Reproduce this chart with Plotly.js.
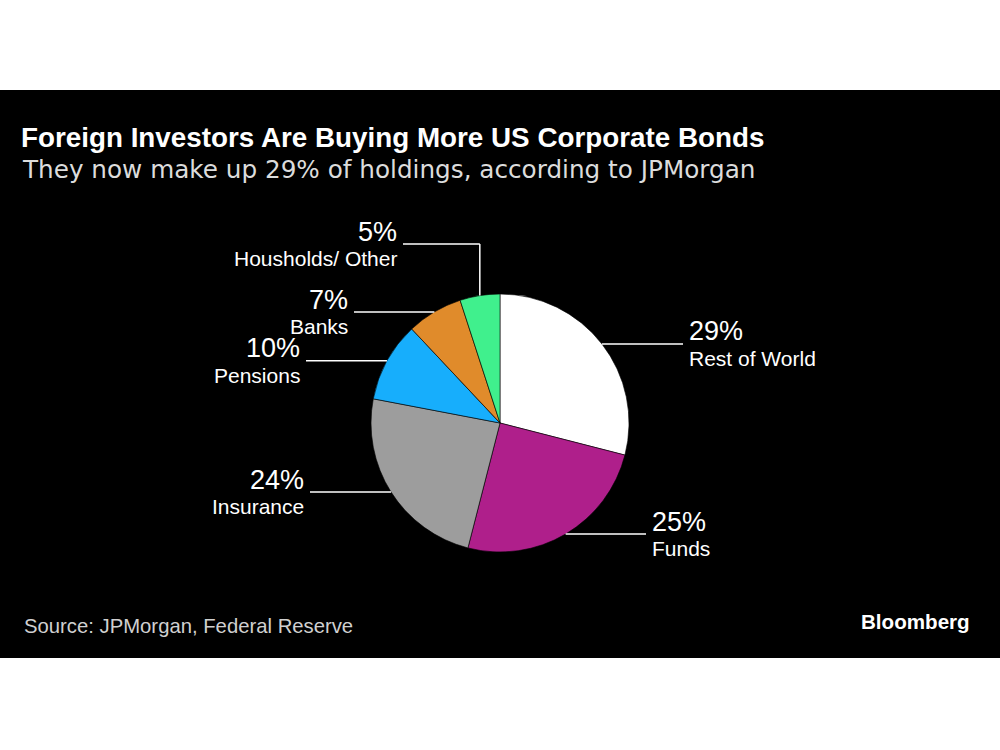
<!DOCTYPE html>
<html>
<head>
<meta charset="utf-8">
<script src="https://cdn.plot.ly/plotly-3.0.1.min.js"></script>
<style>html,body{margin:0;padding:0;background:#fff;}#chart{width:1000px;height:750px;}</style>
</head>
<body>
<div id="chart"></div>
<script>
// ---- data ----
const categories = ['Rest of World', 'Funds', 'Insurance', 'Pensions', 'Banks', 'Housholds/ Other'];
const shares = [29, 25, 24, 10, 7, 5];
const sliceColors = ['#ffffff', '#af1f8b', '#9d9d9d', '#17aefc', '#e08b2b', '#40f08d'];

const titleText = 'Foreign Investors Are Buying More US Corporate Bonds';
const subtitleText = 'They now make up 29% of holdings, according to JPMorgan';
const sourceText = 'Source: JPMorgan, Federal Reserve';
const brandText = 'Bloomberg';

// ---- layout geometry (pixels) ----
const W = 1000, H = 750;
const PIE = {cx: 500, cy: 423, r: 129};
const BAND = {top: 90, bottom: 658};
// label placement: side and x where the leader line ends; optional elbow y
const labelPlace = [
  {side: 'right', x: 683},
  {side: 'right', x: 646},
  {side: 'left', x: 310},
  {side: 'left', x: 306},
  {side: 'left', x: 354},
  {side: 'left', x: 403, elbowY: 244}
];
const FONT = '"Liberation Sans", Arial, Helvetica, sans-serif';
const WIDE = '"DejaVu Sans", "Liberation Sans", Arial, sans-serif';
const PCT_SIZE = 27, NAME_SIZE = 21;

const px = x => x / W;
const py = y => 1 - y / H;

const total = shares.reduce((a, b) => a + b, 0);
const shapes = [{
  type: 'rect', xref: 'paper', yref: 'paper', layer: 'below',
  x0: 0, x1: 1, y0: py(BAND.bottom), y1: py(BAND.top),
  fillcolor: '#000000', line: {width: 0}
}];
const annotations = [];

let cum = 0;
shares.forEach((v, i) => {
  const mid = (cum + v / 2) / total * 2 * Math.PI; // clockwise from 12 o'clock
  cum += v;
  const ex = PIE.cx + PIE.r * Math.sin(mid);
  const ey = PIE.cy - PIE.r * Math.cos(mid);
  const p = labelPlace[i];
  let lineY = ey;
  if (p.elbowY !== undefined) {
    shapes.push({type: 'line', xref: 'paper', yref: 'paper',
      x0: px(ex), y0: py(ey), x1: px(ex), y1: py(p.elbowY),
      line: {color: '#ffffff', width: 1.5}});
    lineY = p.elbowY;
  }
  shapes.push({type: 'line', xref: 'paper', yref: 'paper',
    x0: px(ex), y0: py(lineY), x1: px(p.x), y1: py(lineY),
    line: {color: '#ffffff', width: 1.5}});
  const tx = p.side === 'right' ? p.x + 4 : p.x - 4;
  const anchor = p.side === 'right' ? 'left' : 'right';
  const pctBase = lineY - 3;
  const nameBase = lineY + 22;
  annotations.push({
    xref: 'paper', yref: 'paper', x: px(tx), y: py(pctBase - 0.35 * PCT_SIZE),
    xanchor: anchor, yanchor: 'middle', showarrow: false,
    text: v + '%', font: {family: FONT, size: PCT_SIZE, color: '#ffffff'}
  });
  annotations.push({
    xref: 'paper', yref: 'paper', x: px(tx), y: py(nameBase - 0.35 * NAME_SIZE),
    xanchor: anchor, yanchor: 'middle', showarrow: false,
    text: categories[i], font: {family: FONT, size: NAME_SIZE, color: '#ffffff'}
  });
});

annotations.push({
  xref: 'paper', yref: 'paper', x: px(20), y: py(178 - 0.35 * 24.7),
  xanchor: 'left', yanchor: 'middle', showarrow: false,
  text: subtitleText, font: {family: WIDE, size: 24.7, color: '#dcdcdc'}
});
annotations.push({
  xref: 'paper', yref: 'paper', x: px(22), y: py(633 - 0.35 * 20.3),
  xanchor: 'left', yanchor: 'middle', showarrow: false,
  text: sourceText, font: {family: FONT, size: 20.3, color: '#d0d0d0'}
});
annotations.push({
  xref: 'paper', yref: 'paper', x: px(972), y: py(629 - 0.35 * 20.6),
  xanchor: 'right', yanchor: 'middle', showarrow: false,
  text: '<b>' + brandText + '</b>', font: {family: FONT, size: 20.6, color: '#ffffff'}
});

const trace = {
  type: 'pie',
  labels: categories,
  values: shares,
  sort: false,
  direction: 'clockwise',
  rotation: 0,
  textinfo: 'none',
  hoverinfo: 'label+percent',
  marker: {colors: sliceColors, line: {color: '#000000', width: 0.6}},
  domain: {x: [px(PIE.cx - PIE.r), px(PIE.cx + PIE.r)], y: [py(PIE.cy + PIE.r), py(PIE.cy - PIE.r)]},
  showlegend: false
};

const layout = {
  width: W, height: H,
  margin: {l: 0, r: 0, t: 0, b: 0},
  paper_bgcolor: '#ffffff',
  showlegend: false,
  title: {
    text: '<b>' + titleText + '</b>',
    xref: 'paper', yref: 'paper', x: px(21), y: py(147 - 0.35 * 27.8),
    xanchor: 'left', yanchor: 'middle',
    font: {family: FONT, size: 27.8, color: '#ffffff'}
  },
  shapes: shapes,
  annotations: annotations
};

Plotly.newPlot('chart', [trace], layout, {displayModeBar: false, staticPlot: true});
</script>
</body>
</html>
